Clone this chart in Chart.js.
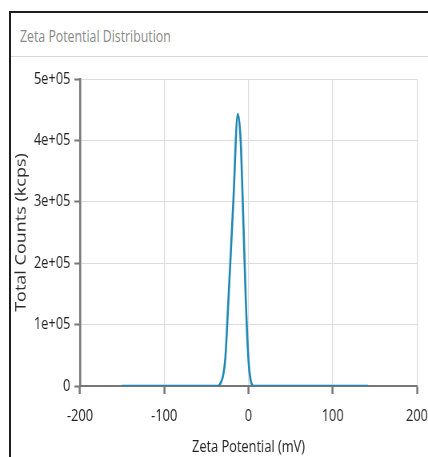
<!DOCTYPE html>
<html>
<head>
<meta charset="utf-8">
<script src="https://cdn.jsdelivr.net/npm/chart.js@4/dist/chart.umd.min.js"></script>
<style>
    html, body {
        margin: 0;
        padding: 0;
        background: #fff;
        width: 428px;
        height: 457px;
        overflow: hidden;
    }
    .panel {
        position: absolute;
        left: 9px;
        top: 11px;
        width: 440px;
        height: 460px;
        border-left: 2px solid #1e1e1e;
        border-top: 2px solid #1e1e1e;
    }
    .panel-header {
        position: absolute;
        left: 0;
        top: 0;
        width: 100%;
        height: 43px;
        border-bottom: 1px solid #d6d6d6;
    }
    .panel-title {
        position: absolute;
        left: 9px;
        top: 13px;
        font-family: 'Open Sans', sans-serif;
        font-size: 16px;
        line-height: 20px;
        color: #8a8a8a;
        white-space: nowrap;
        transform: scaleX(0.77);
        transform-origin: 0 0;
    }
    /* the plot is laid out 25% wider and squeezed back to give the narrow lettering */
    .chart-box {
        position: absolute;
        left: 0;
        top: 57px;
        width: 535px;
        height: 400px;
        transform: scaleX(0.8);
        transform-origin: 0 0;
    }
</style>
</head>
<body>
<div class="panel">
    <div class="panel-header">
        <div class="panel-title">Zeta Potential Distribution</div>
    </div>
</div>
<div class="chart-box">
    <canvas id="zetaChart"></canvas>
</div>
<script>
// Distribution data: potential (mV) vs total counts (kcps)
const potentials = [-150, -36, -33, -30, -27.5, -24, -18, -12.7, -9.3, -6.8, -3.2, 0, 2.5, 6, 142];
const counts = [0, 0, 5000, 18000, 45000, 135000, 300000, 443000, 400000, 300000, 140000, 42000, 10000, 0, 0];

const xTicks = [-200, -100, 0, 100, 200];
const yTicks = [0, 100000, 200000, 300000, 400000, 500000];

const labelFont = "'Open Sans', sans-serif";

function sciLabel(v) {
    if (v === 0) return '0';
    return v.toExponential(0).replace(/e\+(\d)$/, 'e+0$1');
}

const ctx = document.getElementById('zetaChart').getContext('2d');
new Chart(ctx, {
    type: 'line',
    data: {
        datasets: [{
            data: potentials.map((p, i) => ({ x: p, y: counts[i] })),
            borderColor: '#1f87b3',
            borderWidth: 2.6,
            pointRadius: 0,
            fill: false,
            cubicInterpolationMode: 'monotone'
        }]
    },
    options: {
        responsive: true,
        maintainAspectRatio: false,
        animation: false,
        layout: {
            padding: { top: 22, right: 13.75, bottom: 0, left: 0 }
        },
        plugins: {
            legend: { display: false },
            tooltip: { enabled: false }
        },
        scales: {
            x: {
                type: 'linear',
                min: xTicks[0],
                max: xTicks[xTicks.length - 1],
                afterBuildTicks: scale => {
                    scale.ticks = xTicks.map(v => ({ value: v }));
                },
                afterFit: scale => {
                    scale.height = 71;
                    scale.paddingLeft = 0;
                    scale.paddingRight = 0;
                },
                grid: {
                    color: '#dcdcdc',
                    lineWidth: 1.25,
                    tickColor: '#777',
                    tickWidth: 2.5,
                    tickLength: 8
                },
                border: { color: '#777', width: 2 },
                ticks: {
                    color: '#222',
                    padding: 13,
                    maxRotation: 0,
                    font: { family: labelFont, size: 16 }
                },
                title: {
                    display: true,
                    text: 'Zeta Potential (mV)',
                    color: '#222',
                    padding: { top: 0, bottom: 0 },
                    font: { family: labelFont, size: 16 }
                }
            },
            y: {
                min: yTicks[0],
                max: yTicks[yTicks.length - 1],
                afterBuildTicks: scale => {
                    scale.ticks = yTicks.map(v => ({ value: v }));
                },
                afterFit: scale => {
                    scale.width = 100;
                },
                grid: {
                    color: '#dcdcdc',
                    lineWidth: 1,
                    tickColor: '#777',
                    tickWidth: 2,
                    tickLength: 7
                },
                border: { color: '#777', width: 2.5 },
                ticks: {
                    color: '#222',
                    padding: 5,
                    callback: v => sciLabel(v),
                    font: { family: labelFont, size: 16 }
                },
                title: {
                    display: true,
                    text: 'Total Counts (kcps)',
                    color: '#2a2a2a',
                    padding: { top: 16, bottom: 0 },
                    font: { family: labelFont, size: 18 }
                }
            }
        }
    }
});
</script>
</body>
</html>
